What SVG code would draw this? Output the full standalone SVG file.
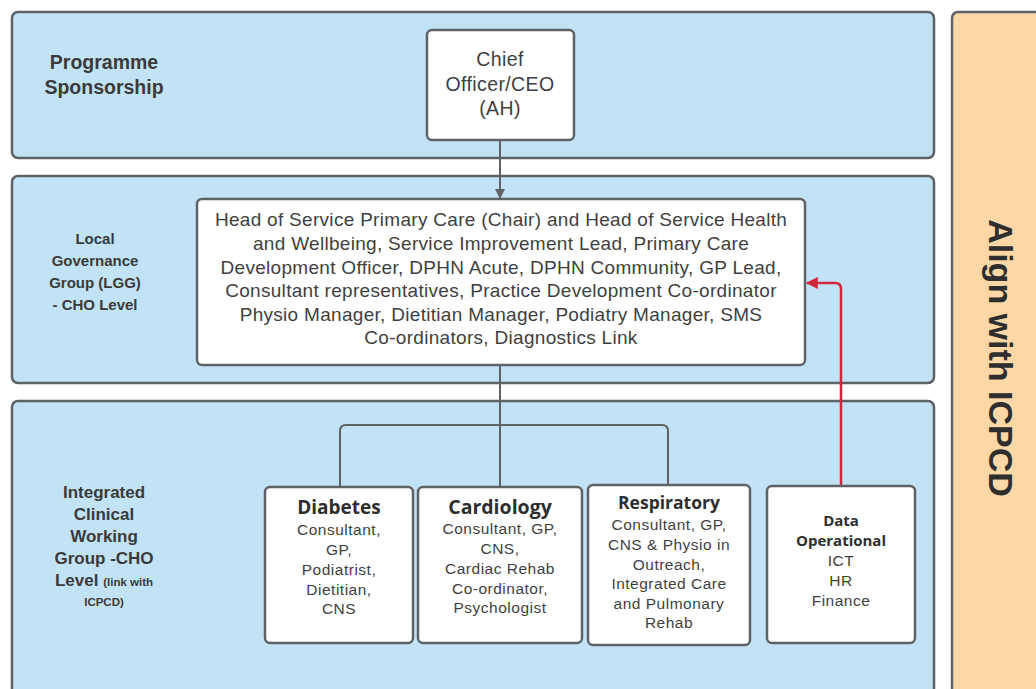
<svg xmlns="http://www.w3.org/2000/svg" width="1036" height="689" viewBox="0 0 1036 689">
<style>
.panel{fill:#c2e3f5;stroke:#5e6266;stroke-width:2.5}
.box{fill:#ffffff;stroke:#5e6266;stroke-width:2.5}
.lbl{font-family:"Liberation Sans",Arial,sans-serif;font-weight:bold;fill:#3a3a3a;text-anchor:middle}
.t{font-family:"Liberation Sans",Arial,sans-serif;fill:#3f3f3f;text-anchor:middle}
.s{font-size:15.5px;letter-spacing:0.5px}
.h{font-family:"Open Sans","Liberation Sans",sans-serif;font-weight:bold;fill:#2e2e2e;text-anchor:middle}
.con{fill:none;stroke:#5e6266;stroke-width:2}
.red{fill:none;stroke:#d0283a;stroke-width:2.5}
</style>
<defs>
<marker id="ag" viewBox="0 0 10 10" refX="9" refY="5" markerWidth="10" markerHeight="10" markerUnits="userSpaceOnUse" orient="auto"><path d="M0,0 L10,5 L0,10 z" fill="#5e6266"/></marker>
<marker id="ar" viewBox="0 0 10 10" refX="9" refY="5" markerWidth="14" markerHeight="12" markerUnits="userSpaceOnUse" orient="auto"><path d="M0,0 L10,5 L0,10 z" fill="#d0283a"/></marker>
</defs>
<rect x="0" y="0" width="1036" height="689" fill="#ffffff"/>

<g id="panel-sponsorship">
<rect class="panel" x="12" y="12" width="922" height="146" rx="6"/>
<text class="lbl" font-size="19.5"><tspan x="104" y="69">Programme</tspan><tspan x="104" y="94">Sponsorship</tspan></text>
</g>
<g id="panel-lgg">
<rect class="panel" x="12" y="176" width="922" height="207" rx="6"/>
<text class="lbl" font-size="15"><tspan x="95" y="244">Local</tspan><tspan x="95" y="266">Governance</tspan><tspan x="95" y="288">Group (LGG)</tspan><tspan x="95" y="310">- CHO Level</tspan></text>
</g>
<g id="panel-icwg">
<rect class="panel" x="12" y="401" width="922" height="300" rx="6"/>
<text class="lbl" font-size="17"><tspan x="104" y="498">Integrated</tspan><tspan x="104" y="520">Clinical</tspan><tspan x="104" y="542">Working</tspan><tspan x="104" y="564">Group -CHO</tspan><tspan x="104" y="586">Level <tspan font-size="11.5">(link with</tspan></tspan><tspan x="104" y="606" font-size="11.5">ICPCD)</tspan></text>
</g>
<g id="panel-align">
<rect x="952" y="12" width="110" height="700" rx="6" fill="#fdd8a6" stroke="#5e6266" stroke-width="2.5"/>
<text font-family="'Liberation Sans',Arial,sans-serif" font-weight="bold" font-size="34" fill="#2e2e2e" text-anchor="middle" transform="translate(989,358) rotate(90)">Align with ICPCD</text>
</g>

<g id="connectors">
<line class="con" x1="500" y1="140" x2="500" y2="198" marker-end="url(#ag)"/>
<path class="con" d="M500,366 V425 M340,487 V431 Q340,425 346,425 H662 Q668,425 668,431 V485 M500,425 V487"/>
<path class="red" d="M841,486 V289 Q841,283 835,283 H807" marker-end="url(#ar)"/>
</g>

<g id="node-ceo">
<rect class="box" x="427" y="30" width="147" height="110" rx="5"/>
<text class="t" font-size="19.5" letter-spacing="0.4"><tspan x="500" y="66">Chief</tspan><tspan x="500" y="91">Officer/CEO</tspan><tspan x="500" y="115">(AH)</tspan></text>
</g>
<g id="node-lgg">
<rect class="box" x="197" y="199" width="608" height="166" rx="5"/>
<text class="t" font-size="19" letter-spacing="0.3"><tspan x="501" y="226">Head of Service Primary Care (Chair) and Head of Service Health</tspan><tspan x="501" y="250">and Wellbeing, Service Improvement Lead, Primary Care</tspan><tspan x="501" y="274">Development Officer, DPHN Acute, DPHN Community, GP Lead,</tspan><tspan x="501" y="297">Consultant representatives, Practice Development Co-ordinator</tspan><tspan x="501" y="321">Physio Manager, Dietitian Manager, Podiatry Manager, SMS</tspan><tspan x="501" y="344">Co-ordinators, Diagnostics Link</tspan></text>
</g>
<g id="node-diabetes">
<rect class="box" x="265" y="487" width="148" height="156" rx="5"/>
<text class="h" font-size="19" x="339" y="514">Diabetes</text>
<text class="t s"><tspan x="339" y="535">Consultant,</tspan><tspan x="339" y="555">GP,</tspan><tspan x="339" y="575">Podiatrist,</tspan><tspan x="339" y="595">Dietitian,</tspan><tspan x="339" y="614">CNS</tspan></text>
</g>
<g id="node-cardiology">
<rect class="box" x="418" y="487" width="164" height="156" rx="5"/>
<text class="h" font-size="19.5" x="500" y="514">Cardiology</text>
<text class="t s"><tspan x="500" y="534">Consultant, GP,</tspan><tspan x="500" y="554">CNS,</tspan><tspan x="500" y="574">Cardiac Rehab</tspan><tspan x="500" y="594">Co-ordinator,</tspan><tspan x="500" y="613">Psychologist</tspan></text>
</g>
<g id="node-respiratory">
<rect class="box" x="588" y="485" width="162" height="160" rx="5"/>
<text class="h" font-size="17.5" x="669" y="509">Respiratory</text>
<text class="t s"><tspan x="669" y="530">Consultant, GP,</tspan><tspan x="669" y="550">CNS &amp; Physio in</tspan><tspan x="669" y="570">Outreach,</tspan><tspan x="669" y="589">Integrated Care</tspan><tspan x="669" y="609">and Pulmonary</tspan><tspan x="669" y="628">Rehab</tspan></text>
</g>
<g id="node-data">
<rect class="box" x="767" y="486" width="148" height="157" rx="5"/>
<text class="h" font-size="15"><tspan x="841" y="526">Data</tspan><tspan x="841" y="546">Operational</tspan></text>
<text class="t s"><tspan x="841" y="566">ICT</tspan><tspan x="841" y="586">HR</tspan><tspan x="841" y="606">Finance</tspan></text>
</g>
</svg>
